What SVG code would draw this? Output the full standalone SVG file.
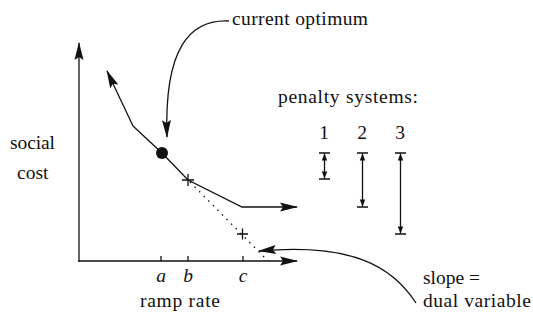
<svg xmlns="http://www.w3.org/2000/svg" width="533" height="330" viewBox="0 0 533 330">
<style>
text{font-family:'Liberation Serif','Times New Roman',serif;font-size:19.5px;fill:#111}
.it{font-style:italic}
.ln{fill:none;stroke:#111;stroke-width:1.3}
</style>
<defs>
<marker id="ah" markerUnits="userSpaceOnUse" markerWidth="18" markerHeight="10" refX="17" refY="5" orient="auto" overflow="visible">
<path d="M0,0.5 L18,5 L0,9.5 L3,5 z" fill="#111"/>
</marker>
<marker id="sm" markerUnits="userSpaceOnUse" markerWidth="7" markerHeight="6" refX="7" refY="3" orient="auto" overflow="visible">
<path d="M0,0.3 L7,3 L0,5.7 z" fill="#111"/>
</marker>
</defs>
<rect width="533" height="330" fill="#fff"/>
<g id="connectors">
<path class="ln" d="M79,262 L79,43" marker-end="url(#ah)"/>
<path class="ln" d="M78.5,261 L297,261" marker-end="url(#ah)"/>
<path class="ln" d="M161,256 V261 M188,256 V261 M243,256 V261"/>
<path class="ln" d="M133,126 L107,71" marker-end="url(#ah)"/>
<path class="ln" d="M133,126 L162,153 L188,180 L242,207 L297,207" marker-end="url(#ah)"/>
<path class="ln" d="M190,182 L268,261" stroke-dasharray="1.5 5"/>
<path class="ln" d="M182,180 H194 M188,174 V186"/>
<path class="ln" d="M237,234 H248 M242.5,228.5 V239.5"/>
<path class="ln" d="M229,21 C190,19 164,48 167,137" marker-end="url(#ah)"/>
<path class="ln" d="M416,303 C392,266 352,243 259,251" marker-end="url(#ah)"/>
</g>
<g id="optimum"><circle cx="162" cy="153" r="6" fill="#111"/></g>
<g id="penalty">
<path class="ln" d="M319,153 H330 M319,179 H330 M357,153 H368 M357,207 H368 M395,153 H406 M395,234 H406"/>
<path class="ln" d="M324.5,166 V153.5" marker-end="url(#sm)"/>
<path class="ln" d="M324.5,166 V178.5" marker-end="url(#sm)"/>
<path class="ln" d="M362.5,180 V153.5" marker-end="url(#sm)"/>
<path class="ln" d="M362.5,180 V206.5" marker-end="url(#sm)"/>
<path class="ln" d="M400.5,193 V153.5" marker-end="url(#sm)"/>
<path class="ln" d="M400.5,193 V233.5" marker-end="url(#sm)"/>
</g>
<g id="labels">
<text x="232" y="25" textLength="136">current optimum</text>
<text x="278" y="103" textLength="140">penalty systems:</text>
<text x="324" y="139" text-anchor="middle">1</text>
<text x="362" y="139" text-anchor="middle">2</text>
<text x="400" y="139" text-anchor="middle">3</text>
<text x="10" y="149" textLength="45">social</text>
<text x="17" y="179">cost</text>
<text class="it" x="161" y="282" text-anchor="middle">a</text>
<text class="it" x="188" y="282" text-anchor="middle">b</text>
<text class="it" x="243" y="282" text-anchor="middle">c</text>
<text x="140" y="307" textLength="80">ramp rate</text>
<text x="423" y="284">slope =</text>
<text x="423" y="307" textLength="108">dual variable</text>
</g>
</svg>
